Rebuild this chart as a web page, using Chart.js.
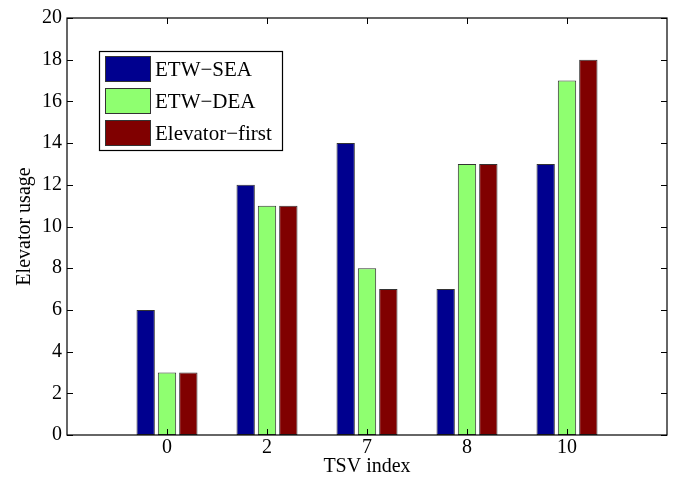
<!DOCTYPE html>
<html>
<head>
<meta charset="utf-8">
<script src="https://cdn.jsdelivr.net/npm/chart.js@4"></script>
<style>
  html, body { margin: 0; padding: 0; background: #fff; }
  #wrap { width: 681px; height: 480px; }
</style>
</head>
<body>
<div id="wrap"><canvas id="usageChart" width="681" height="480"></canvas></div>
<script>
const categories = ['0', '2', '7', '8', '10'];
const etwSea = [6, 12, 14, 7, 13];
const etwDea = [3, 11, 8, 13, 17];
const elevatorFirst = [3, 11, 7, 13, 18];
const yTicks = [0, 2, 4, 6, 8, 10, 12, 14, 16, 18, 20];

const FONT = '"Liberation Serif", "Times New Roman", serif';

// empty slots on both ends, like the matlab axis
const labels = [''].concat(categories, ['']);
const pad = arr => [null].concat(arr, [null]);

const frameAndLegend = {
    id: 'frameAndLegend',
    afterDraw(chart) {
        const ctx = chart.ctx;
        const a = chart.chartArea;
        const xs = chart.scales.x, ys = chart.scales.y;
        ctx.save();
        ctx.strokeStyle = '#000';
        ctx.lineWidth = 1.2;
        ctx.strokeRect(a.left, a.top, a.right - a.left, a.bottom - a.top);
        ctx.beginPath();
        yTicks.forEach(v => {
            const py = Math.round(ys.getPixelForValue(v)) + 0.5;
            ctx.moveTo(a.left, py); ctx.lineTo(a.left + 6, py);
            ctx.moveTo(a.right, py); ctx.lineTo(a.right - 6, py);
        });
        categories.forEach((c, i) => {
            const px = Math.round(xs.getPixelForValue(i + 1)) + 0.5;
            ctx.moveTo(px, a.bottom); ctx.lineTo(px, a.bottom - 6);
            ctx.moveTo(px, a.top); ctx.lineTo(px, a.top + 6);
        });
        ctx.lineWidth = 1;
        ctx.stroke();

        // legend box
        const lx = 99, ly = 51, lw = 183, lh = 99;
        ctx.fillStyle = '#fff';
        ctx.fillRect(lx, ly, lw, lh);
        ctx.lineWidth = 1.2;
        ctx.strokeRect(lx + 0.5, ly + 0.5, lw, lh);
        ctx.font = '21px ' + FONT;
        ctx.textBaseline = 'middle';
        chart.data.datasets.forEach((ds, i) => {
            const ry = 56 + i * 32;
            ctx.fillStyle = ds.backgroundColor;
            ctx.fillRect(105, ry, 46, 26);
            ctx.lineWidth = 1;
            ctx.strokeStyle = '#333';
            ctx.strokeRect(105.5, ry + 0.5, 45, 25);
            ctx.fillStyle = '#000';
            ctx.fillText(ds.label, 155, ry + 14);
        });
        ctx.restore();
    }
};

new Chart(document.getElementById('usageChart').getContext('2d'), {
    type: 'bar',
    data: {
        labels: labels,
        datasets: [
            { label: 'ETW\u2212SEA', data: pad(etwSea), backgroundColor: '#00008F' },
            { label: 'ETW\u2212DEA', data: pad(etwDea), backgroundColor: '#8FFF70' },
            { label: 'Elevator\u2212first', data: pad(elevatorFirst), backgroundColor: '#800000' }
        ].map(d => Object.assign(d, {
            borderColor: '#333',
            borderWidth: 1,
            borderSkipped: false,
            categoryPercentage: 0.64,
            barPercentage: 0.86
        }))
    },
    options: {
        responsive: false,
        animation: false,
        layout: { padding: { left: 0, right: 14, top: 18, bottom: 0 } },
        plugins: { legend: { display: false }, tooltip: { enabled: false } },
        scales: {
            x: {
                type: 'category',
                offset: false,
                grid: { display: false, drawTicks: false },
                border: { display: false },
                ticks: { color: '#000', font: { family: FONT, size: 20 }, padding: 1, maxRotation: 0, autoSkip: false },
                title: { display: true, text: 'TSV index', color: '#000', font: { family: FONT, size: 20 }, padding: { top: 0, bottom: 1 } },
                afterFit(scale) { scale.height = 45; }
            },
            y: {
                min: 0,
                max: 20,
                grid: { display: false, drawTicks: false },
                border: { display: false },
                ticks: { stepSize: 2, color: '#000', font: { family: FONT, size: 20 }, padding: 5 },
                title: { display: true, text: 'Elevator usage', color: '#000', font: { family: FONT, size: 20 }, padding: { top: 13, bottom: 0 } },
                afterFit(scale) { scale.width = 67; }
            }
        }
    },
    plugins: [frameAndLegend]
});
</script>
</body>
</html>
